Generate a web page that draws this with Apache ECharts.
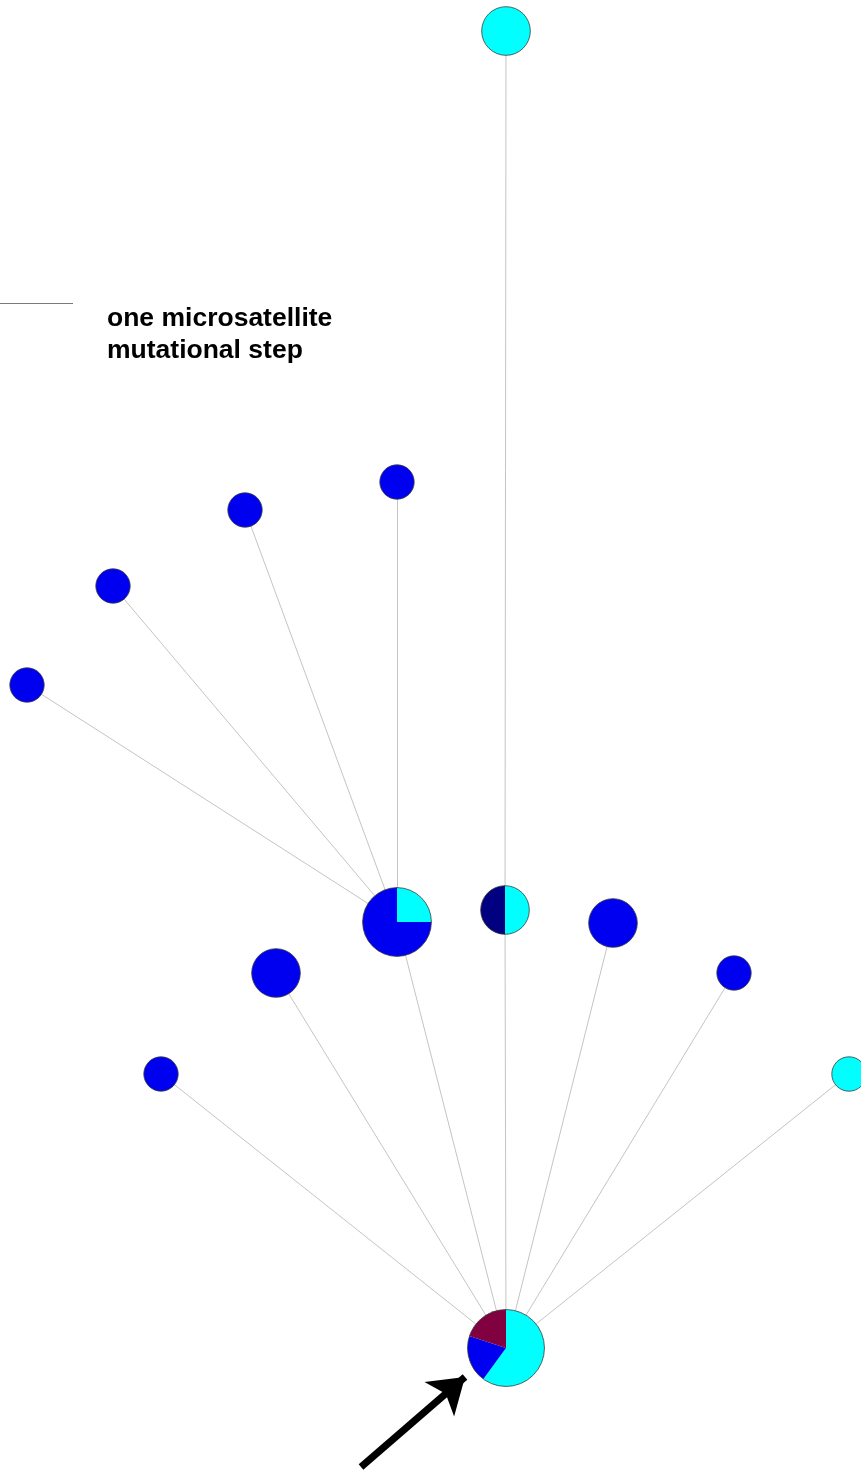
<!DOCTYPE html>
<html>
<head>
<meta charset="utf-8">
<script src="https://cdn.jsdelivr.net/npm/echarts@6/dist/echarts.min.js"></script>
<style>
  html, body { margin: 0; padding: 0; background: #ffffff; }
  #chart { width: 861px; height: 1470px; }
</style>
</head>
<body>
<div id="chart"></div>
<script>
// Haplotype network: node layout positions and allele-group counts per haplotype
const haplotypes = ['H01', 'H02', 'H03', 'H04', 'H05', 'H06', 'H07', 'H08', 'H09', 'H10', 'H11', 'H12', 'H13'];
const layoutX = [506, 397, 505, 613, 276, 734, 161, 849, 506, 397, 245, 113, 27];
const layoutY = [1348, 922, 910, 923, 973, 973, 1074, 1074, 31, 482, 510, 586, 685];
const countCyan   = [3, 1, 1, 0, 0, 0, 0, 1, 2, 0, 0, 0, 0];
const countBlue   = [1, 3, 0, 2, 2, 1, 1, 0, 0, 1, 1, 1, 1];
const countNavy   = [0, 0, 1, 0, 0, 0, 0, 0, 0, 0, 0, 0, 0];
const countMaroon = [1, 0, 0, 0, 0, 0, 0, 0, 0, 0, 0, 0, 0];

// Network links (index pairs into haplotypes)
const linkSource = [0, 0, 0, 0, 0, 0, 0, 1, 1, 1, 1, 2];
const linkTarget = [6, 4, 1, 2, 3, 5, 7, 9, 10, 11, 12, 8];

// Scale bar: one microsatellite mutational step
const scaleBar = [[0, 303], [73, 303]];
// Pointer arrow towards the root haplotype
const arrowPath = [[361, 1467], [465, 1377]];

const groupColors = ['#00ffff', '#0000f0', '#000080', '#800040'];
const unitRadius = 17.2;

const nodeData = haplotypes.map((h, i) => ({
  name: h,
  value: [layoutX[i], layoutY[i], countCyan[i], countBlue[i], countNavy[i], countMaroon[i]]
}));

const linkData = linkSource.map((s, k) => ({
  coords: [[layoutX[s], layoutY[s]], [layoutX[linkTarget[k]], layoutY[linkTarget[k]]]]
}));

function renderPieNode(params, api) {
  const pt = api.coord([api.value(0), api.value(1)]);
  const counts = [api.value(2), api.value(3), api.value(4), api.value(5)];
  const total = counts.reduce((a, b) => a + b, 0);
  const r = unitRadius * Math.sqrt(total);
  const children = [];
  let angle = -Math.PI / 2;
  counts.forEach((c, g) => {
    if (!c) return;
    const span = (c / total) * Math.PI * 2;
    if (c === total) {
      children.push({ type: 'circle', shape: { cx: pt[0], cy: pt[1], r: r },
        style: { fill: groupColors[g] } });
    } else {
      children.push({ type: 'sector', shape: { cx: pt[0], cy: pt[1], r0: 0, r: r,
        startAngle: angle, endAngle: angle + span, clockwise: true },
        style: { fill: groupColors[g] } });
    }
    angle += span;
  });
  children.push({ type: 'circle', shape: { cx: pt[0], cy: pt[1], r: r },
    style: { fill: 'none', stroke: '#3c3c3c', lineWidth: 0.8 } });
  return { type: 'group', children: children };
}

const chart = echarts.init(document.getElementById('chart'), null, { renderer: 'canvas' });
chart.setOption({
  animation: false,
  backgroundColor: '#ffffff',
  grid: { left: 0, right: 0, top: 0, bottom: 0 },
  xAxis: { type: 'value', min: 0, max: 861, show: false },
  yAxis: { type: 'value', min: 0, max: 1470, inverse: true, show: false },
  graphic: [
    { type: 'text', left: 107, top: 305, style: { text: 'one microsatellite', fill: '#000',
      font: 'bold 26.5px "Liberation Sans", Arial, sans-serif' } },
    { type: 'text', left: 107, top: 337, style: { text: 'mutational step', fill: '#000',
      font: 'bold 26.5px "Liberation Sans", Arial, sans-serif' } }
  ],
  series: [
    {
      type: 'lines', coordinateSystem: 'cartesian2d', silent: true, z: 1,
      lineStyle: { color: '#ababab', width: 0.7, opacity: 1 },
      data: linkData
    },
    {
      type: 'lines', coordinateSystem: 'cartesian2d', silent: true, z: 1,
      lineStyle: { color: '#7a7a7a', width: 1, opacity: 1 },
      data: [{ coords: scaleBar }]
    },
    {
      type: 'custom', coordinateSystem: 'cartesian2d', z: 3, clip: false,
      renderItem: renderPieNode,
      data: nodeData
    },
    {
      type: 'lines', coordinateSystem: 'cartesian2d', silent: true, z: 4,
      symbol: ['none', 'arrow'], symbolSize: [17, 34],
      lineStyle: { color: '#000000', width: 7, opacity: 1 },
      data: [{ coords: arrowPath }]
    }
  ]
});
</script>
</body>
</html>
